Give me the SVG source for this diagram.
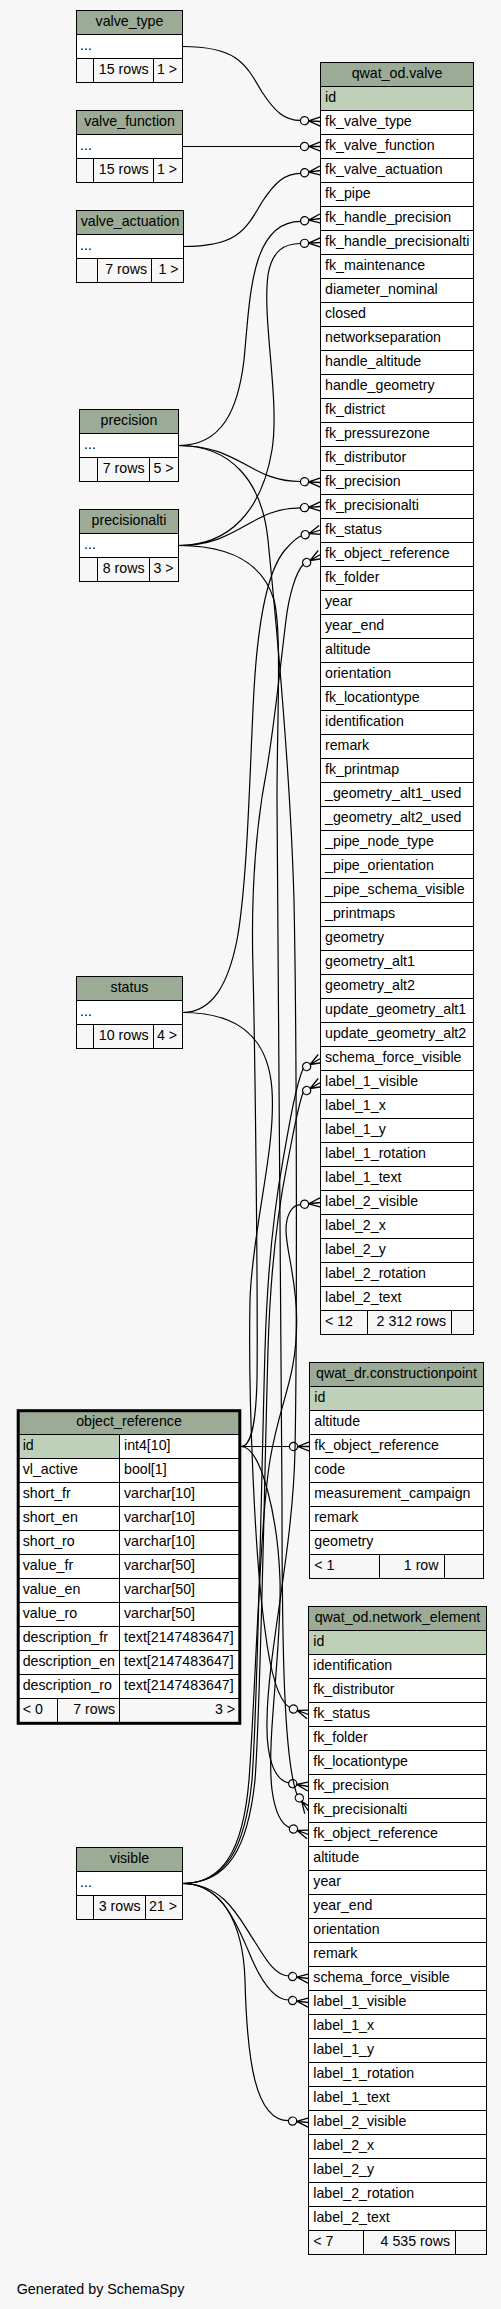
<svg xmlns="http://www.w3.org/2000/svg" xmlns:xlink="http://www.w3.org/1999/xlink" width="501" height="2309" viewBox="0 0 501 2309">
<style>
text{font-family:"Liberation Sans",Arial,Helvetica,sans-serif;font-size:14.2px;fill:#000}
.c{text-anchor:middle}
.r{text-anchor:end}
.b{fill:#fff;stroke:#000;stroke-width:1}
.hd{fill:#9bab96;stroke:#000;stroke-width:1}
.pk{fill:#bed1b8;stroke:#000;stroke-width:1}
.ft{fill:#f7f7f7;stroke:#000;stroke-width:1}
.ln{fill:none;stroke:#000;stroke-width:1}
.e{fill:none;stroke:#000;stroke-width:1.2}
</style>
<defs>
<g id="crow"><circle cx="-16" cy="0" r="4.1" fill="none" stroke="#000" stroke-width="1.2"/><path d="M-12,0L0,-4.6M-12,0L0,0M-12,0L0,4.6" fill="none" stroke="#000" stroke-width="1.3"/></g>
</defs>
<rect x="0" y="0" width="501" height="2309" fill="#f7f7f7"/>

<g id="connectors">
<path class="e" d="M182.5,46.5 C235,46.5 245,62 262,92 C275,112 285,120.4 300.3,120.4"/>
<path class="e" d="M182.5,146.5 L300.3,146.5"/>
<path class="e" d="M183.5,246.5 C235,246.5 245,232 262,202 C275,182 285,173.3 300.7,173.3"/>
<path class="e" d="M178.5,445.5 C222,445.5 238,410 244,360 C250,300 250,221.3 300.7,221.3"/>
<path class="e" d="M178.5,545.5 C230,545.5 262,510 272,450 C280,400 262,320 268,275 C272,250 285,243.5 300.5,243.5"/>
<path class="e" d="M178.5,445.5 C240,445.5 250,481.5 300.5,481.5"/>
<path class="e" d="M178.5,545.5 C240,545.5 250,507.9 300.6,507.9"/>
<path class="e" d="M182.5,1012.5 C212,1012.5 228,985 237,940 C248,880 250,760 254,690 C258,620 268,570 285,550 C292,542 296,538 301.4,535.8"/>
<path class="e" d="M241,1446.5 C252,1446.5 256,1420 257,1380 C258,1300 255,1050 253,970 C251,900 255,830 266.7,770 C275,720 281,660 286,620 C289,595 296,572 303.2,564.5"/>
<path class="e" d="M182.5,1883.5 C225,1883.5 245,1850 252,1780 C258,1700 262,1450 265,1350 C267,1280 272,1220 283,1160 C290,1120 296,1085 303.2,1068.5"/>
<path class="e" d="M182.5,1883.5 C228,1883.5 248,1848 255,1780 C261,1700 265,1450 268,1350 C270,1280 276,1220 287,1165 C293,1135 298,1105 303.2,1092.5"/>
<path class="e" d="M182.5,1883.5 C222,1883.5 243,1852 249,1780 C255,1700 260,1520 270,1460 C280,1400 296.7,1380 296.7,1320 C296.7,1280 286,1250 286,1230 C286,1215 292,1204.6 300.6,1204.6"/>
<path class="e" d="M241,1446.5 L289.5,1446.5"/>
<path class="e" d="M182.5,1012.5 C230,1012.5 268,1030 272,1090 C276,1150 252,1230 250,1300 C248,1400 255,1560 265,1630 C270,1670 278,1700 289.5,1707.6"/>
<path class="e" d="M178.5,445.5 C230,445.5 262,480 268,540 C275,610 290,760 294,900 C297,1050 297,1350 295,1450 C293,1550 268,1650 267,1720 C266,1760 275,1780 288.8,1783"/>
<path class="e" d="M178.5,545.5 C225,545.5 262,560 274,600 C282,630 277,720 277,800 C277,1000 282,1300 282,1500 C282,1650 284,1760 297,1794.6"/>
<path class="e" d="M241,1446.5 C262,1446.5 278,1520 280,1580 C282,1650 266,1740 272,1790 C275,1812 281,1824 289.5,1827.6"/>
<path class="e" d="M182.5,1883.5 C225,1883.5 240,1920 255,1942 C265,1958 275,1976 288.6,1976"/>
<path class="e" d="M182.5,1883.5 C220,1883.5 235,1920 248,1950 C258,1975 272,2000 288.6,2000"/>
<path class="e" d="M182.5,1883.5 C220,1883.5 243,1920 245,1980 C247,2060 255,2120.7 288.6,2120.7"/>
<use xlink:href="#crow" transform="translate(320.5,121.5) rotate(3)"/>
<use xlink:href="#crow" transform="translate(320.5,146.5)"/>
<use xlink:href="#crow" transform="translate(320.5,170.5) rotate(-8)"/>
<use xlink:href="#crow" transform="translate(320.5,218.5) rotate(-8)"/>
<use xlink:href="#crow" transform="translate(320.5,242.5) rotate(-3)"/>
<use xlink:href="#crow" transform="translate(320.5,482.5) rotate(3)"/>
<use xlink:href="#crow" transform="translate(320.5,506.5) rotate(-4)"/>
<use xlink:href="#crow" transform="translate(320.5,530) rotate(-17)"/>
<use xlink:href="#crow" transform="translate(320.5,554.5) rotate(-30)"/>
<use xlink:href="#crow" transform="translate(320.5,1058.5) rotate(-30)"/>
<use xlink:href="#crow" transform="translate(320.5,1082.5) rotate(-30)"/>
<use xlink:href="#crow" transform="translate(320.5,1202.5) rotate(-6)"/>
<use xlink:href="#crow" transform="translate(309.5,1446.5)"/>
<use xlink:href="#crow" transform="translate(308.5,1714.5) rotate(20)"/>
<use xlink:href="#crow" transform="translate(308.5,1786.5) rotate(10)"/>
<use xlink:href="#crow" transform="translate(308.5,1811) rotate(55)"/>
<use xlink:href="#crow" transform="translate(308.5,1834.5) rotate(20)"/>
<use xlink:href="#crow" transform="translate(308.5,1978.5) rotate(7)"/>
<use xlink:href="#crow" transform="translate(308.5,2002.5) rotate(7)"/>
<use xlink:href="#crow" transform="translate(308.5,2122.5) rotate(5)"/>
</g>

<g id="valve_type">
<rect class="b" x="76.5" y="10.5" width="106" height="72"/>
<rect class="hd" x="76.5" y="10.5" width="106" height="24"/>
<rect class="ft" x="76.5" y="58.5" width="106" height="24"/>
<path class="ln" d="M93.5,58.5V82.5M153.5,58.5V82.5"/>
<text class="c" x="129.5" y="26.3">valve_type</text>
<text x="80" y="50.3">...</text>
<text class="r" x="148.5" y="74.3">15 rows</text>
<text class="r" x="177" y="74.3">1 &gt;</text>
</g>

<g id="valve_function">
<rect class="b" x="76.5" y="110.5" width="106" height="72"/>
<rect class="hd" x="76.5" y="110.5" width="106" height="24"/>
<rect class="ft" x="76.5" y="158.5" width="106" height="24"/>
<path class="ln" d="M93.5,158.5V182.5M153.5,158.5V182.5"/>
<text class="c" x="129.5" y="126.3">valve_function</text>
<text x="80" y="150.3">...</text>
<text class="r" x="148.5" y="174.3">15 rows</text>
<text class="r" x="177" y="174.3">1 &gt;</text>
</g>

<g id="valve_actuation">
<rect class="b" x="76.5" y="210.5" width="107" height="72"/>
<rect class="hd" x="76.5" y="210.5" width="107" height="24"/>
<rect class="ft" x="76.5" y="258.5" width="107" height="24"/>
<path class="ln" d="M97.5,258.5V282.5M151.5,258.5V282.5"/>
<text class="c" x="130" y="226.3">valve_actuation</text>
<text x="80" y="250.3">...</text>
<text class="r" x="147" y="274.3">7 rows</text>
<text class="r" x="178.5" y="274.3">1 &gt;</text>
</g>

<g id="precision">
<rect class="b" x="79.5" y="409.5" width="99" height="72"/>
<rect class="hd" x="79.5" y="409.5" width="99" height="24"/>
<rect class="ft" x="79.5" y="457.5" width="99" height="24"/>
<path class="ln" d="M97.5,457.5V481.5M149.5,457.5V481.5"/>
<text class="c" x="129" y="425.3">precision</text>
<text x="84" y="449.3">...</text>
<text class="r" x="144.5" y="473.3">7 rows</text>
<text class="r" x="173.5" y="473.3">5 &gt;</text>
</g>

<g id="precisionalti">
<rect class="b" x="79.5" y="509.5" width="99" height="72"/>
<rect class="hd" x="79.5" y="509.5" width="99" height="24"/>
<rect class="ft" x="79.5" y="557.5" width="99" height="24"/>
<path class="ln" d="M97.5,557.5V581.5M149.5,557.5V581.5"/>
<text class="c" x="129" y="525.3">precisionalti</text>
<text x="84" y="549.3">...</text>
<text class="r" x="144.5" y="573.3">8 rows</text>
<text class="r" x="173.5" y="573.3">3 &gt;</text>
</g>

<g id="status">
<rect class="b" x="76.5" y="976.5" width="106" height="72"/>
<rect class="hd" x="76.5" y="976.5" width="106" height="24"/>
<rect class="ft" x="76.5" y="1024.5" width="106" height="24"/>
<path class="ln" d="M93.5,1024.5V1048.5M153.5,1024.5V1048.5"/>
<text class="c" x="129.5" y="992.3">status</text>
<text x="80" y="1016.3">...</text>
<text class="r" x="148.5" y="1040.3">10 rows</text>
<text class="r" x="177" y="1040.3">4 &gt;</text>
</g>

<g id="visible">
<rect class="b" x="76.5" y="1847.5" width="106" height="72"/>
<rect class="hd" x="76.5" y="1847.5" width="106" height="24"/>
<rect class="ft" x="76.5" y="1895.5" width="106" height="24"/>
<path class="ln" d="M93.5,1895.5V1919.5M145.5,1895.5V1919.5"/>
<text class="c" x="129.5" y="1863.3">visible</text>
<text x="80" y="1887.3">...</text>
<text class="r" x="140.5" y="1911.3">3 rows</text>
<text class="r" x="177" y="1911.3">21 &gt;</text>
</g>

<g id="object_reference">
<rect x="18.2" y="1410.7" width="221.6" height="312.6" fill="#fff"/>
<rect class="hd" x="18.2" y="1410.7" width="221.6" height="23.8" stroke="none"/>
<rect class="pk" x="18.2" y="1434.5" width="101.3" height="24"/>
<rect class="ft" x="18.2" y="1698.5" width="221.6" height="24.8" stroke="none"/>
<path class="ln" d="M18,1434.5H240M18,1458.5H240M18,1482.5H240M18,1506.5H240M18,1530.5H240M18,1554.5H240M18,1578.5H240M18,1602.5H240M18,1626.5H240M18,1650.5H240M18,1674.5H240M18,1698.5H240M119.5,1434.5V1723M57.5,1698.5V1723"/>
<rect x="18.2" y="1410.7" width="221.6" height="312.6" fill="none" stroke="#000" stroke-width="3"/>
<text class="c" x="129" y="1426.3">object_reference</text>
<text x="22.7" y="1450.3">id</text><text x="124" y="1450.3">int4[10]</text>
<text x="22.7" y="1474.3">vl_active</text><text x="124" y="1474.3">bool[1]</text>
<text x="22.7" y="1498.3">short_fr</text><text x="124" y="1498.3">varchar[10]</text>
<text x="22.7" y="1522.3">short_en</text><text x="124" y="1522.3">varchar[10]</text>
<text x="22.7" y="1546.3">short_ro</text><text x="124" y="1546.3">varchar[10]</text>
<text x="22.7" y="1570.3">value_fr</text><text x="124" y="1570.3">varchar[50]</text>
<text x="22.7" y="1594.3">value_en</text><text x="124" y="1594.3">varchar[50]</text>
<text x="22.7" y="1618.3">value_ro</text><text x="124" y="1618.3">varchar[50]</text>
<text x="22.7" y="1642.3">description_fr</text><text x="124" y="1642.3">text[2147483647]</text>
<text x="22.7" y="1666.3">description_en</text><text x="124" y="1666.3">text[2147483647]</text>
<text x="22.7" y="1690.3">description_ro</text><text x="124" y="1690.3">text[2147483647]</text>
<text x="22.7" y="1714.3">&lt; 0</text>
<text class="r" x="115" y="1714.3">7 rows</text>
<text class="r" x="235" y="1714.3">3 &gt;</text>
</g>

<g id="qwat_od.valve">
<rect class="b" x="320.5" y="62.5" width="153" height="1272"/>
<rect class="hd" x="320.5" y="62.5" width="153" height="24"/>
<rect class="pk" x="320.5" y="86.5" width="153" height="24"/>
<rect class="ft" x="320.5" y="1310.5" width="153" height="24"/>
<path class="ln" d="M320.5,110.5h153M320.5,134.5h153M320.5,158.5h153M320.5,182.5h153M320.5,206.5h153M320.5,230.5h153M320.5,254.5h153M320.5,278.5h153M320.5,302.5h153M320.5,326.5h153M320.5,350.5h153M320.5,374.5h153M320.5,398.5h153M320.5,422.5h153M320.5,446.5h153M320.5,470.5h153M320.5,494.5h153M320.5,518.5h153M320.5,542.5h153M320.5,566.5h153M320.5,590.5h153M320.5,614.5h153M320.5,638.5h153M320.5,662.5h153M320.5,686.5h153M320.5,710.5h153M320.5,734.5h153M320.5,758.5h153M320.5,782.5h153M320.5,806.5h153M320.5,830.5h153M320.5,854.5h153M320.5,878.5h153M320.5,902.5h153M320.5,926.5h153M320.5,950.5h153M320.5,974.5h153M320.5,998.5h153M320.5,1022.5h153M320.5,1046.5h153M320.5,1070.5h153M320.5,1094.5h153M320.5,1118.5h153M320.5,1142.5h153M320.5,1166.5h153M320.5,1190.5h153M320.5,1214.5h153M320.5,1238.5h153M320.5,1262.5h153M320.5,1286.5h153M367.5,1310.5V1334.5M451.5,1310.5V1334.5"/>
<text class="c" x="397" y="78.3">qwat_od.valve</text>
<text x="325" y="102.3">id</text>
<text x="325" y="126.3">fk_valve_type</text>
<text x="325" y="150.3">fk_valve_function</text>
<text x="325" y="174.3">fk_valve_actuation</text>
<text x="325" y="198.3">fk_pipe</text>
<text x="325" y="222.3">fk_handle_precision</text>
<text x="325" y="246.3">fk_handle_precisionalti</text>
<text x="325" y="270.3">fk_maintenance</text>
<text x="325" y="294.3">diameter_nominal</text>
<text x="325" y="318.3">closed</text>
<text x="325" y="342.3">networkseparation</text>
<text x="325" y="366.3">handle_altitude</text>
<text x="325" y="390.3">handle_geometry</text>
<text x="325" y="414.3">fk_district</text>
<text x="325" y="438.3">fk_pressurezone</text>
<text x="325" y="462.3">fk_distributor</text>
<text x="325" y="486.3">fk_precision</text>
<text x="325" y="510.3">fk_precisionalti</text>
<text x="325" y="534.3">fk_status</text>
<text x="325" y="558.3">fk_object_reference</text>
<text x="325" y="582.3">fk_folder</text>
<text x="325" y="606.3">year</text>
<text x="325" y="630.3">year_end</text>
<text x="325" y="654.3">altitude</text>
<text x="325" y="678.3">orientation</text>
<text x="325" y="702.3">fk_locationtype</text>
<text x="325" y="726.3">identification</text>
<text x="325" y="750.3">remark</text>
<text x="325" y="774.3">fk_printmap</text>
<text x="325" y="798.3">_geometry_alt1_used</text>
<text x="325" y="822.3">_geometry_alt2_used</text>
<text x="325" y="846.3">_pipe_node_type</text>
<text x="325" y="870.3">_pipe_orientation</text>
<text x="325" y="894.3">_pipe_schema_visible</text>
<text x="325" y="918.3">_printmaps</text>
<text x="325" y="942.3">geometry</text>
<text x="325" y="966.3">geometry_alt1</text>
<text x="325" y="990.3">geometry_alt2</text>
<text x="325" y="1014.3">update_geometry_alt1</text>
<text x="325" y="1038.3">update_geometry_alt2</text>
<text x="325" y="1062.3">schema_force_visible</text>
<text x="325" y="1086.3">label_1_visible</text>
<text x="325" y="1110.3">label_1_x</text>
<text x="325" y="1134.3">label_1_y</text>
<text x="325" y="1158.3">label_1_rotation</text>
<text x="325" y="1182.3">label_1_text</text>
<text x="325" y="1206.3">label_2_visible</text>
<text x="325" y="1230.3">label_2_x</text>
<text x="325" y="1254.3">label_2_y</text>
<text x="325" y="1278.3">label_2_rotation</text>
<text x="325" y="1302.3">label_2_text</text>
<text x="325" y="1326.3">&lt; 12</text>
<text class="r" x="446" y="1326.3">2 312 rows</text>
</g>

<g id="qwat_dr.constructionpoint">
<rect class="b" x="309.5" y="1362.5" width="174" height="216"/>
<rect class="hd" x="309.5" y="1362.5" width="174" height="24"/>
<rect class="pk" x="309.5" y="1386.5" width="174" height="24"/>
<rect class="ft" x="309.5" y="1554.5" width="174" height="24"/>
<path class="ln" d="M309.5,1434.5h174M309.5,1458.5h174M309.5,1482.5h174M309.5,1506.5h174M309.5,1530.5h174M379.5,1554.5V1578.5M444.5,1554.5V1578.5"/>
<text class="c" x="396.5" y="1378.3">qwat_dr.constructionpoint</text>
<text x="314.3" y="1402.3">id</text>
<text x="314.3" y="1426.3">altitude</text>
<text x="314.3" y="1450.3">fk_object_reference</text>
<text x="314.3" y="1474.3">code</text>
<text x="314.3" y="1498.3">measurement_campaign</text>
<text x="314.3" y="1522.3">remark</text>
<text x="314.3" y="1546.3">geometry</text>
<text x="314.3" y="1570.3">&lt; 1</text>
<text class="r" x="438.5" y="1570.3">1 row</text>
</g>

<g id="qwat_od.network_element">
<rect class="b" x="308.5" y="1606.5" width="178" height="648"/>
<rect class="hd" x="308.5" y="1606.5" width="178" height="24"/>
<rect class="pk" x="308.5" y="1630.5" width="178" height="24"/>
<rect class="ft" x="308.5" y="2230.5" width="178" height="24"/>
<path class="ln" d="M308.5,1678.5h178M308.5,1702.5h178M308.5,1726.5h178M308.5,1750.5h178M308.5,1774.5h178M308.5,1798.5h178M308.5,1822.5h178M308.5,1846.5h178M308.5,1870.5h178M308.5,1894.5h178M308.5,1918.5h178M308.5,1942.5h178M308.5,1966.5h178M308.5,1990.5h178M308.5,2014.5h178M308.5,2038.5h178M308.5,2062.5h178M308.5,2086.5h178M308.5,2110.5h178M308.5,2134.5h178M308.5,2158.5h178M308.5,2182.5h178M308.5,2206.5h178M363.5,2230.5V2254.5M455.5,2230.5V2254.5"/>
<text class="c" x="397.5" y="1622.3">qwat_od.network_element</text>
<text x="313.3" y="1646.3">id</text>
<text x="313.3" y="1670.3">identification</text>
<text x="313.3" y="1694.3">fk_distributor</text>
<text x="313.3" y="1718.3">fk_status</text>
<text x="313.3" y="1742.3">fk_folder</text>
<text x="313.3" y="1766.3">fk_locationtype</text>
<text x="313.3" y="1790.3">fk_precision</text>
<text x="313.3" y="1814.3">fk_precisionalti</text>
<text x="313.3" y="1838.3">fk_object_reference</text>
<text x="313.3" y="1862.3">altitude</text>
<text x="313.3" y="1886.3">year</text>
<text x="313.3" y="1910.3">year_end</text>
<text x="313.3" y="1934.3">orientation</text>
<text x="313.3" y="1958.3">remark</text>
<text x="313.3" y="1982.3">schema_force_visible</text>
<text x="313.3" y="2006.3">label_1_visible</text>
<text x="313.3" y="2030.3">label_1_x</text>
<text x="313.3" y="2054.3">label_1_y</text>
<text x="313.3" y="2078.3">label_1_rotation</text>
<text x="313.3" y="2102.3">label_1_text</text>
<text x="313.3" y="2126.3">label_2_visible</text>
<text x="313.3" y="2150.3">label_2_x</text>
<text x="313.3" y="2174.3">label_2_y</text>
<text x="313.3" y="2198.3">label_2_rotation</text>
<text x="313.3" y="2222.3">label_2_text</text>
<text x="313.3" y="2246.3">&lt; 7</text>
<text class="r" x="450" y="2246.3">4 535 rows</text>
</g>

<text x="16.7" y="2294" style="font-size:14.3px">Generated by SchemaSpy</text>
</svg>
